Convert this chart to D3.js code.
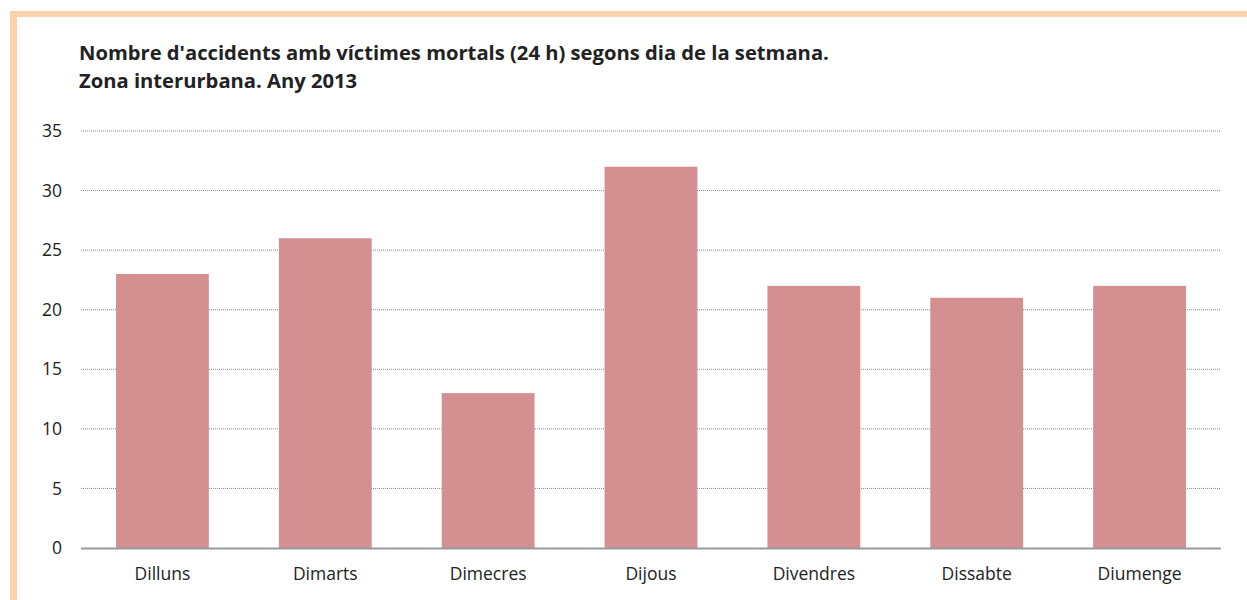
<!DOCTYPE html>
<html>
<head>
<meta charset="utf-8">
<script src="https://cdn.jsdelivr.net/npm/d3@7"></script>
<style>
  body { margin: 0; background: #fff; }
  svg { display: block; font-family: "Open Sans", "Noto Sans", sans-serif; }
</style>
</head>
<body>
<div id="chart"></div>
<script>
var dies = ["Dilluns", "Dimarts", "Dimecres", "Dijous", "Divendres", "Dissabte", "Diumenge"];
var accidents = [23, 26, 13, 32, 22, 21, 22];
var yTicks = [0, 5, 10, 15, 20, 25, 30, 35];
var titol = ["Nombre d'accidents amb víctimes mortals (24 h) segons dia de la setmana.",
             "Zona interurbana. Any 2013"];

var W = 1247, H = 600;
var margin = { top: 131, right: 26, bottom: 52, left: 81 },
    width = W - margin.left - margin.right,
    height = H - margin.top - margin.bottom;

var svg = d3.select('#chart').append('svg')
    .attr('width', W)
    .attr('height', H);

// marc taronja
svg.append('rect').attr('x', 10).attr('y', 11).attr('width', W - 10).attr('height', 6).attr('fill', '#fad3ad');
svg.append('rect').attr('x', 10).attr('y', 11).attr('width', 7).attr('height', H - 11).attr('fill', '#fad3ad');

svg.selectAll('.titol')
    .data(titol)
    .enter().append('text')
    .attr('class', 'titol')
    .attr('x', 79)
    .attr('y', function(d, i) { return 60 + i * 28; })
    .attr('font-size', '20.2px')
    .attr('font-weight', 'bold')
    .attr('fill', '#222')
    .text(function(d) { return d; });

var g = svg.append('g')
    .attr('transform', 'translate(' + margin.left + ',' + margin.top + ')');

var xscale = d3.scaleBand()
    .domain(dies)
    .range([0, width])
    .paddingInner(0.43)
    .paddingOuter(0.215);

var yscale = d3.scaleLinear()
    .domain([0, 35])
    .range([height, 0]);

// graella
g.selectAll('.grid')
    .data(yTicks.slice(1))
    .enter().append('line')
    .attr('x1', 0).attr('x2', width)
    .attr('y1', function(d) { return yscale(d); })
    .attr('y2', function(d) { return yscale(d); })
    .attr('stroke', '#888')
    .attr('stroke-width', 1)
    .attr('stroke-dasharray', '1,1');

g.selectAll('.ylab')
    .data(yTicks)
    .enter().append('text')
    .attr('x', -19)
    .attr('y', function(d) { return yscale(d); })
    .attr('dy', '0.35em')
    .attr('text-anchor', 'end')
    .attr('font-size', '17.5px')
    .attr('fill', '#222')
    .text(function(d) { return d; });

g.selectAll('rect')
    .data(dies)
    .enter().append('rect')
    .attr('fill', '#d49090')
    .attr('x', function(d) { return xscale(d); })
    .attr('y', function(d, i) { return yscale(accidents[i]); })
    .attr('width', xscale.bandwidth())
    .attr('height', function(d, i) { return height - yscale(accidents[i]); });

g.append('line')
    .attr('x1', 0).attr('x2', width)
    .attr('y1', height + 0.5).attr('y2', height + 0.5)
    .attr('stroke', '#9a9a9e')
    .attr('stroke-width', 2);

g.selectAll('.xlab')
    .data(dies)
    .enter().append('text')
    .attr('x', function(d) { return xscale(d) + xscale.bandwidth() / 2; })
    .attr('y', height + 32)
    .attr('text-anchor', 'middle')
    .attr('font-size', '17.5px')
    .attr('fill', '#222')
    .text(function(d) { return d; });
</script>
</body>
</html>
